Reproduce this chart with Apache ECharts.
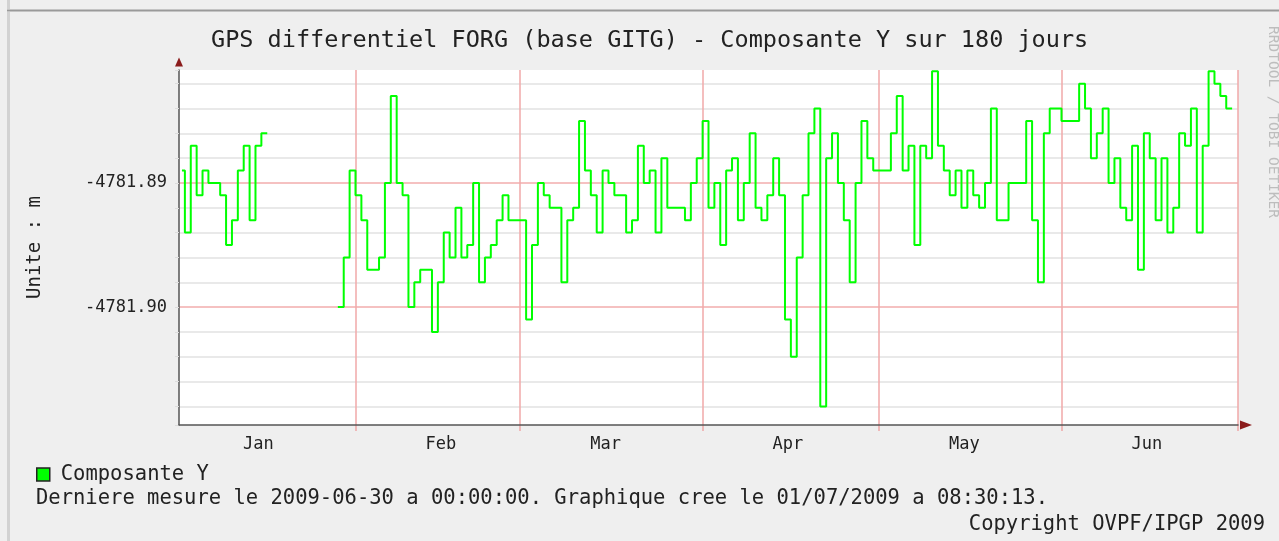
<!DOCTYPE html>
<html>
<head>
<meta charset="utf-8">
<script src="https://cdn.jsdelivr.net/npm/echarts@6/dist/echarts.min.js"></script>
<style>
	html, body { margin: 0; padding: 0; background: #efefef; }
	#chart { width: 1279px; height: 541px; }
</style>
</head>
<body>
<div id="chart"></div>
<script>
// valeurs journalieres (Composante Y, en m), 2 janvier -> 30 juin 2009
var janY = [-4781.889, -4781.894, -4781.887, -4781.891, -4781.889, -4781.890, -4781.890, -4781.891, -4781.895, -4781.893,
	-4781.889, -4781.887, -4781.893, -4781.887, -4781.886, null, null, null, null, null,
	null, null, null, null, null, null, null, -4781.900, -4781.896, -4781.889];
var febY = [-4781.891, -4781.893, -4781.897, -4781.897, -4781.896, -4781.890, -4781.883, -4781.890, -4781.891, -4781.900,
	-4781.898, -4781.897, -4781.897, -4781.902, -4781.898, -4781.894, -4781.896, -4781.892, -4781.896, -4781.895,
	-4781.890, -4781.898, -4781.896, -4781.895, -4781.893, -4781.891, -4781.893, -4781.893];
var marY = [-4781.893, -4781.901, -4781.895, -4781.890, -4781.891, -4781.892, -4781.892, -4781.898, -4781.893, -4781.892,
	-4781.885, -4781.889, -4781.891, -4781.894, -4781.889, -4781.890, -4781.891, -4781.891, -4781.894, -4781.893,
	-4781.887, -4781.890, -4781.889, -4781.894, -4781.888, -4781.892, -4781.892, -4781.892, -4781.893, -4781.890,
	-4781.888];
var aprY = [-4781.885, -4781.892, -4781.890, -4781.895, -4781.889, -4781.888, -4781.893, -4781.890, -4781.886, -4781.892,
	-4781.893, -4781.891, -4781.888, -4781.891, -4781.901, -4781.904, -4781.896, -4781.891, -4781.886, -4781.884,
	-4781.908, -4781.888, -4781.886, -4781.890, -4781.893, -4781.898, -4781.890, -4781.885, -4781.888, -4781.889];
var mayY = [-4781.889, -4781.889, -4781.886, -4781.883, -4781.889, -4781.887, -4781.895, -4781.887, -4781.888, -4781.881,
	-4781.887, -4781.889, -4781.891, -4781.889, -4781.892, -4781.889, -4781.891, -4781.892, -4781.890, -4781.884,
	-4781.893, -4781.893, -4781.890, -4781.890, -4781.890, -4781.885, -4781.893, -4781.898, -4781.886, -4781.884,
	-4781.884];
var junY = [-4781.885, -4781.885, -4781.885, -4781.882, -4781.884, -4781.888, -4781.886, -4781.884, -4781.890, -4781.888,
	-4781.892, -4781.893, -4781.887, -4781.897, -4781.886, -4781.888, -4781.893, -4781.888, -4781.894, -4781.892,
	-4781.886, -4781.887, -4781.884, -4781.894, -4781.887, -4781.881, -4781.882, -4781.883, -4781.884, null];

var monthLabels = ['Jan', 'Feb', 'Mar', 'Apr', 'May', 'Jun'];
var yMajorLabels = [-4781.90, -4781.89];

var fontMono = 'DejaVu Sans Mono';
var gridRed = '#f0a8a8';

// jours (categories) et limites de jours (pour les lignes de debut de mois)
var days = [];
var dayEdges = [];
var d0 = Date.UTC(2009, 0, 2);
for (var i = 0; i <= 180; i++) {
	var s = new Date(d0 + i * 86400000).toISOString().slice(0, 10);
	dayEdges.push(s);
	if (i < 180) {
		days.push(s);
	}
}
var valuesY = janY.concat(febY, marY, aprY, mayY, junY);

var isMonthStart = function(idx, val) { return val.slice(8) === '01'; };

var myChart = echarts.init(document.getElementById('chart'));
var option = {
	animation : false,
	backgroundColor : '#efefef',
	title : [ {
		text : 'GPS differentiel FORG (base GITG) - Composante Y sur 180 jours',
		left : 211,
		top : 29,
		padding : 0,
		textStyle : { fontFamily : fontMono, fontSize : 23.5, fontWeight : 'normal', color : '#222' }
	}, {
		text : 'Derniere mesure le 2009-06-30 a 00:00:00. Graphique cree le 01/07/2009 a 08:30:13.',
		left : 36,
		top : 488,
		padding : 0,
		textStyle : { fontFamily : fontMono, fontSize : 20.5, fontWeight : 'normal', color : '#222' }
	}, {
		text : 'Copyright OVPF/IPGP 2009',
		right : 14,
		top : 514,
		padding : 0,
		textStyle : { fontFamily : fontMono, fontSize : 20.5, fontWeight : 'normal', color : '#222' }
	} ],
	legend : {
		left : 36,
		top : 464,
		padding : 0,
		selectedMode : false,
		itemWidth : 13,
		itemHeight : 13,
		icon : 'rect',
		textStyle : { fontFamily : fontMono, fontSize : 20.5, color : '#222', padding : [ 0, 0, 0, 6 ] },
		data : [ {
			name : 'Composante Y',
			itemStyle : { color : '#00ff00', borderColor : '#222', borderWidth : 1.5 }
		} ]
	},
	grid : {
		left : 179,
		right : 41,
		top : 70,
		bottom : 116,
		show : true,
		backgroundColor : '#ffffff',
		borderWidth : 0
	},
	xAxis : [ {
		type : 'category',
		data : days,
		boundaryGap : true,
		z : 3,
		axisLine : { lineStyle : { color : '#555', width : 1.5 } },
		axisTick : { show : false },
		splitLine : { show : false },
		axisLabel : {
			interval : function(idx, val) { return val.slice(8) === '15'; },
			formatter : function(val) { return monthLabels[parseInt(val.slice(5, 7), 10) - 1]; },
			fontFamily : fontMono,
			fontSize : 17,
			color : '#222',
			margin : 11
		}
	}, {
		// fleche de l'axe des temps
		type : 'value',
		min : 0,
		max : 1,
		position : 'bottom',
		axisLine : {
			show : true,
			symbol : [ 'none', 'triangle' ],
			symbolSize : [ 9, 12 ],
			symbolOffset : [ 0, 8 ],
			lineStyle : { color : '#8b1c1c', width : 0 }
		},
		axisTick : { show : false },
		axisLabel : { show : false },
		splitLine : { show : false }
	}, {
		// lignes de debut de mois
		type : 'category',
		data : dayEdges,
		boundaryGap : false,
		position : 'bottom',
		axisLine : { show : false },
		axisLabel : { show : false },
		axisTick : {
			show : true,
			length : 6,
			interval : isMonthStart,
			lineStyle : { color : gridRed, width : 1.5 }
		},
		splitLine : {
			show : true,
			interval : isMonthStart,
			lineStyle : { color : gridRed, width : 1.5 }
		}
	} ],
	yAxis : [ {
		type : 'value',
		min : -4781.9095,
		max : -4781.8809,
		splitNumber : 14,
		name : 'Unite : m',
		nameLocation : 'middle',
		nameRotate : 90,
		nameGap : 134,
		nameTextStyle : { fontFamily : fontMono, fontSize : 19, color : '#222' },
		axisLine : { show : true, lineStyle : { color : '#555', width : 1.5 } },
		axisTick : { show : true, length : 4, lineStyle : { color : '#dcdcdc' } },
		splitLine : {
			show : true,
			showMinLine : false,
			showMaxLine : false,
			lineStyle : { color : [ '#e2e2e2', '#e2e2e2', '#e2e2e2', '#e2e2e2', '#f2adad' ], width : 1.5 }
		},
		axisLabel : {
			fontFamily : fontMono,
			fontSize : 17,
			color : '#222',
			margin : 12,
			formatter : function(v) {
				for (var k = 0; k < yMajorLabels.length; k++) {
					if (Math.abs(v - yMajorLabels[k]) < 1e-6) {
						return yMajorLabels[k].toFixed(2);
					}
				}
				return '';
			}
		}
	}, {
		// fleche de l'axe vertical
		type : 'value',
		min : 0,
		max : 1,
		position : 'left',
		axisLine : {
			show : true,
			symbol : [ 'none', 'triangle' ],
			symbolSize : [ 8, 9 ],
			symbolOffset : [ 0, 8 ],
			lineStyle : { color : '#8b1c1c', width : 0 }
		},
		axisTick : { show : false },
		axisLabel : { show : false },
		splitLine : { show : false }
	} ],
	graphic : [ {
		type : 'rect',
		shape : { x : 7, y : 0, width : 3, height : 541 },
		style : { fill : '#d2d2d2' }
	}, {
		type : 'rect',
		shape : { x : 7, y : 9, width : 1272, height : 3 },
		style : { fill : '#c4c4c4' }
	}, {
		type : 'rect',
		shape : { x : 7, y : 10, width : 1272, height : 1 },
		style : { fill : '#9a9a9a' }
	}, {
		type : 'text',
		x : 1273,
		y : 26,
		rotation : -Math.PI / 2,
		style : {
			text : 'RRDTOOL / TOBI OETIKER',
			fontFamily : fontMono,
			fontSize : 14.5,
			fill : '#bdbdbd',
			textAlign : 'left',
			textVerticalAlign : 'middle'
		}
	} ],
	series : [ {
		name : 'Composante Y',
		type : 'line',
		step : 'middle',
		showSymbol : false,
		connectNulls : false,
		data : valuesY,
		itemStyle : { color : '#00ff00' },
		lineStyle : { color : '#00ff00', width : 2 }
	} ]
};
myChart.setOption(option);
</script>
</body>
</html>
